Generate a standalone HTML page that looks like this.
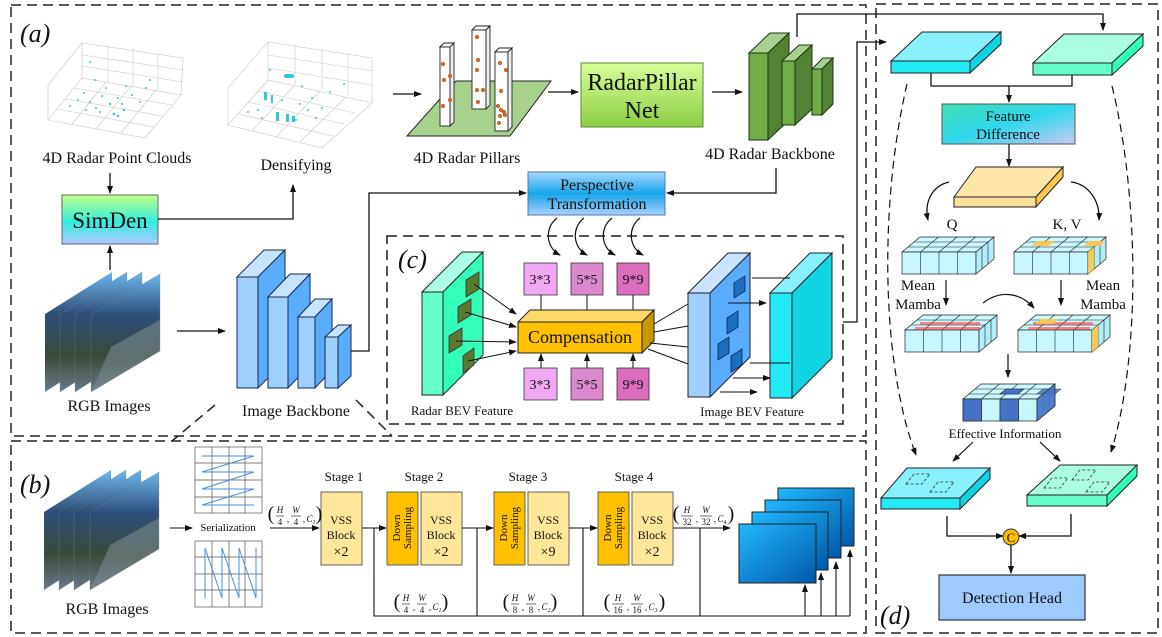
<!DOCTYPE html>
<html><head><meta charset="utf-8"><style>
html,body{margin:0;padding:0;background:#fff}
svg{display:block;font-family:"Liberation Serif","DejaVu Serif",serif}
svg text{font-family:"Liberation Serif","DejaVu Serif",serif;fill:#111}
</style></head><body>
<svg width="1162" height="637" viewBox="0 0 1162 637" xmlns="http://www.w3.org/2000/svg" font-family="Liberation Serif, DejaVu Serif, serif">
<defs>
<marker id="ah" markerWidth="8" markerHeight="8" refX="7" refY="4" orient="auto" markerUnits="userSpaceOnUse"><path d="M0,1 L8,4 L0,7 z" fill="#111"/></marker>
<linearGradient id="gSim" x1="0" y1="0" x2="0" y2="1"><stop offset="0" stop-color="#c2ff88"/><stop offset="0.55" stop-color="#30eedd"/><stop offset="1" stop-color="#b0c8ff"/></linearGradient>
<linearGradient id="gRP" x1="0" y1="0" x2="0" y2="1"><stop offset="0" stop-color="#d8ff99"/><stop offset="1" stop-color="#8ccc44"/></linearGradient>
<linearGradient id="gPT" x1="0" y1="0" x2="0" y2="1"><stop offset="0" stop-color="#a8d8ff"/><stop offset="0.5" stop-color="#18a4ea"/><stop offset="1" stop-color="#a8d0ff"/></linearGradient>
<linearGradient id="gFD" x1="0" y1="0" x2="1" y2="1"><stop offset="0" stop-color="#3ee0b0"/><stop offset="0.5" stop-color="#30d8f0"/><stop offset="1" stop-color="#c8c8ee"/></linearGradient>
<linearGradient id="gImg" x1="0" y1="0" x2="0" y2="1"><stop offset="0" stop-color="#6ab8f0"/><stop offset="0.35" stop-color="#2e4e78"/><stop offset="0.7" stop-color="#3a4a3a"/><stop offset="1" stop-color="#6a7a8a"/></linearGradient>
<linearGradient id="gBlue" x1="0" y1="0" x2="1" y2="1"><stop offset="0" stop-color="#22b8ff"/><stop offset="1" stop-color="#0058a8"/></linearGradient>
<g id="rgb">
 <polygon points="44,512 111,470 111,547 44,590" fill="url(#gImg)"/>
 <polygon points="59,512 126,470 126,547 59,590" fill="url(#gImg)" stroke="#888" stroke-width="0.3"/>
 <polygon points="74,512 141,470 141,547 74,590" fill="url(#gImg)" stroke="#888" stroke-width="0.3"/>
 <polygon points="90,512 159,472 159,549 90,590" fill="url(#gImg)" stroke="#888" stroke-width="0.3"/>
 <polygon points="110,545 159,518 159,549 90,590" fill="#7a8a90" opacity="0.6"/>
</g>
<g id="gridc">
 <polygon points="0,15 74,15 92,0 18,0" fill="#ccf8ff" stroke="#222" stroke-width="0.7"/>
 <line x1="6" y1="10" x2="80" y2="10" stroke="#222" stroke-width="0.6"/>
 <line x1="12" y1="5" x2="86" y2="5" stroke="#222" stroke-width="0.6"/>
 <line x1="18.5" y1="15" x2="36.5" y2="0" stroke="#222" stroke-width="0.6"/>
 <line x1="37" y1="15" x2="55" y2="0" stroke="#222" stroke-width="0.6"/>
 <line x1="55.5" y1="15" x2="73.5" y2="0" stroke="#222" stroke-width="0.6"/>
 <rect x="0" y="15" width="74" height="22" fill="#c8f6ff" stroke="#222" stroke-width="0.7"/>
 <line x1="18.5" y1="15" x2="18.5" y2="37" stroke="#222" stroke-width="0.6"/>
 <line x1="37" y1="15" x2="37" y2="37" stroke="#222" stroke-width="0.6"/>
 <line x1="55.5" y1="15" x2="55.5" y2="37" stroke="#222" stroke-width="0.6"/>
 <polygon points="74,15 92,0 92,22 74,37" fill="#b0eef8" stroke="#222" stroke-width="0.7"/>
 <line x1="80" y1="10" x2="80" y2="32" stroke="#222" stroke-width="0.6"/>
 <line x1="86" y1="5" x2="86" y2="27" stroke="#222" stroke-width="0.6"/>
</g>
</defs>

<!-- Frames -->
<g fill="none" stroke="#222" stroke-width="1.5" stroke-dasharray="10,6">
 <rect x="11" y="5" width="855" height="431"/>
 <rect x="11" y="441" width="855" height="192"/>
 <rect x="876" y="4" width="282" height="629"/>
 <rect x="387" y="236" width="456" height="188"/>
 <line x1="215" y1="405" x2="172" y2="441"/>
 <line x1="356" y1="400" x2="392" y2="436"/>
</g>
<text x="20" y="42" font-size="26" font-style="italic">(a)</text>
<text x="20" y="493" font-size="26" font-style="italic">(b)</text>
<text x="398" y="268" font-size="26" font-style="italic">(c)</text>
<text x="880" y="624" font-size="26" font-style="italic">(d)</text>

<!-- Point cloud plots -->
<g stroke="#c8c8c8" stroke-width="0.6" fill="none">
 <polygon points="48,120 145,138 181,95 82,78"/>
 <polyline points="82,78 82,43 183,58 181,95"/>
 <polyline points="48,120 48,85 82,43"/>
 <line x1="108" y1="45" x2="108" y2="83"/><line x1="133" y1="48" x2="133" y2="87"/><line x1="158" y1="53" x2="158" y2="91"/>
 <line x1="82" y1="55" x2="183" y2="70"/><line x1="82" y1="66" x2="183" y2="82"/>
 <line x1="72" y1="124" x2="106" y2="82"/><line x1="96" y1="129" x2="131" y2="86"/><line x1="121" y1="133" x2="156" y2="90"/>
 <line x1="57" y1="109" x2="154" y2="127"/><line x1="66" y1="99" x2="163" y2="116"/><line x1="74" y1="88" x2="172" y2="105"/>
 <polygon points="228,125 322,148 372,103 268,80"/>
 <polyline points="268,80 268,42 372,58 372,103"/>
 <polyline points="228,125 228,88 268,42"/>
 <line x1="295" y1="45" x2="295" y2="85"/><line x1="322" y1="49" x2="322" y2="90"/><line x1="348" y1="53" x2="348" y2="96"/>
 <line x1="268" y1="55" x2="372" y2="71"/><line x1="268" y1="68" x2="372" y2="85"/>
 <line x1="252" y1="131" x2="294" y2="86"/><line x1="276" y1="137" x2="320" y2="91"/><line x1="300" y1="142" x2="346" y2="97"/>
 <line x1="238" y1="114" x2="333" y2="136"/><line x1="248" y1="102" x2="344" y2="124"/><line x1="258" y1="91" x2="355" y2="113"/>
</g>
<g fill="#30c8d8">
 <circle cx="90" cy="102" r="1"/><circle cx="96" cy="108" r="1"/><circle cx="102" cy="96" r="1"/><circle cx="110" cy="104" r="1.2"/><circle cx="118" cy="98" r="1"/><circle cx="124" cy="110" r="1.2"/><circle cx="100" cy="112" r="1"/><circle cx="86" cy="110" r="1"/><circle cx="132" cy="95" r="1"/><circle cx="140" cy="102" r="1"/><circle cx="78" cy="100" r="1"/><circle cx="146" cy="88" r="1"/><circle cx="114" cy="114" r="1.3"/><circle cx="118" cy="116" r="1.3"/><circle cx="106" cy="88" r="1"/><circle cx="95" cy="80" r="1"/><circle cx="90" cy="62" r="1"/><circle cx="70" cy="106" r="1"/><circle cx="126" cy="86" r="1"/><circle cx="150" cy="80" r="1"/><circle cx="84" cy="93" r="1"/><circle cx="122" cy="104" r="1"/>
 <rect x="284" y="74" width="10" height="4" rx="2"/><rect x="264" y="92" width="3" height="8"/><rect x="271" y="95" width="2" height="8"/><rect x="276" y="112" width="3" height="9"/><rect x="286" y="114" width="3" height="8"/><rect x="292" y="116" width="3" height="6"/>
 <circle cx="258" cy="110" r="1"/><circle cx="262" cy="118" r="1"/><circle cx="300" cy="104" r="1"/><circle cx="308" cy="110" r="1"/><circle cx="312" cy="98" r="1"/><circle cx="282" cy="100" r="1"/><circle cx="248" cy="112" r="1"/><circle cx="330" cy="92" r="1"/><circle cx="344" cy="84" r="1"/><circle cx="302" cy="86" r="1"/><circle cx="270" cy="70" r="1"/><circle cx="316" cy="118" r="1"/><circle cx="296" cy="120" r="1"/><circle cx="322" cy="108" r="1"/>
</g>
<text x="117" y="163" font-size="16" text-anchor="middle">4D Radar Point Clouds</text>
<text x="296" y="170" font-size="16" text-anchor="middle">Densifying</text>

<!-- SimDen -->
<line x1="110" y1="173" x2="110" y2="193" stroke="#111" stroke-width="1.3" marker-end="url(#ah)"/>
<rect x="62" y="195" width="96" height="49" fill="url(#gSim)" stroke="#666" stroke-width="1"/>
<text x="110" y="228" font-size="23" text-anchor="middle">SimDen</text>
<polyline points="158,219 293,219 293,185" fill="none" stroke="#111" stroke-width="1.3" marker-end="url(#ah)"/>
<line x1="110" y1="270" x2="110" y2="246" stroke="#111" stroke-width="1.3" marker-end="url(#ah)"/>
<use href="#rgb" transform="translate(1,-198)"/>
<text x="109" y="411" font-size="16" text-anchor="middle">RGB Images</text>
<line x1="177" y1="331" x2="225" y2="331" stroke="#111" stroke-width="1.3" marker-end="url(#ah)"/>

<!-- Image backbone -->
<g stroke="#1a2a4a" stroke-width="1">
 <polygon points="237,277 264,250 285,250 258,277" fill="#c6e3ff"/><polygon points="258,277 285,250 285,361 258,388" fill="#5aacff"/><rect x="237" y="277" width="21" height="111" fill="#9dcfff"/>
 <polygon points="268,297 290,274 310,274 288,297" fill="#c6e3ff"/><polygon points="288,297 310,274 310,365 288,388" fill="#5aacff"/><rect x="268" y="297" width="20" height="91" fill="#9dcfff"/>
 <polygon points="298,317 315,299 332,299 315,317" fill="#c6e3ff"/><polygon points="315,317 332,299 332,370 315,388" fill="#5aacff"/><rect x="298" y="317" width="17" height="71" fill="#9dcfff"/>
 <polygon points="325,337 338,325 351,325 338,337" fill="#c6e3ff"/><polygon points="338,337 351,325 351,376 338,388" fill="#5aacff"/><rect x="325" y="337" width="13" height="51" fill="#9dcfff"/>
</g>
<text x="296" y="416" font-size="16" text-anchor="middle">Image Backbone</text>
<polyline points="351,351 369,351 369,193 526,193" fill="none" stroke="#111" stroke-width="1.3" marker-end="url(#ah)"/>

<!-- Pillars -->
<line x1="393" y1="94" x2="421" y2="94" stroke="#111" stroke-width="1.3" marker-end="url(#ah)"/>
<polygon points="407,136 456,81 551,81 510,136" fill="#a9d18e" stroke="#222" stroke-width="1"/>
<g stroke="#222" stroke-width="0.9" fill="#fff">
 <polygon points="440,47 444,43 454,43 450,47"/><rect x="440" y="47" width="10" height="79"/><polygon points="450,47 454,43 454,122 450,126" fill="#eee"/>
 <polygon points="472,30 476,26 490,26 486,30"/><rect x="472" y="30" width="14" height="79"/><polygon points="486,30 490,26 490,105 486,109" fill="#eee"/>
 <polygon points="495,52 499,48 512,48 508,52"/><rect x="495" y="52" width="13" height="79"/><polygon points="508,52 512,48 512,127 508,131" fill="#eee"/>
</g>
<g fill="#e07020" stroke="#803000" stroke-width="0.4">
 <circle cx="443" cy="64" r="1.8"/><circle cx="444" cy="80" r="1.8"/><circle cx="450" cy="76" r="1.8"/><circle cx="450" cy="100" r="1.8"/><circle cx="443" cy="106" r="1.8"/>
 <circle cx="477" cy="37" r="1.8"/><circle cx="478" cy="60" r="1.8"/><circle cx="477" cy="70" r="1.8"/><circle cx="477" cy="90" r="1.8"/><circle cx="483" cy="90" r="1.8"/><circle cx="478" cy="102" r="1.8"/>
 <circle cx="500" cy="63" r="1.8"/><circle cx="506" cy="70" r="1.8"/><circle cx="501" cy="91" r="1.8"/><circle cx="498" cy="106" r="1.8"/><circle cx="501" cy="110" r="1.8"/><circle cx="504" cy="112" r="1.8"/><circle cx="500" cy="116" r="1.8"/><circle cx="505" cy="115" r="1.8"/><circle cx="499" cy="123" r="1.8"/>
</g>
<text x="467" y="163" font-size="16" text-anchor="middle">4D Radar Pillars</text>
<line x1="548" y1="92" x2="578" y2="92" stroke="#111" stroke-width="1.3" marker-end="url(#ah)"/>
<rect x="581" y="63" width="122" height="64" fill="url(#gRP)" stroke="#5a8a30" stroke-width="1"/>
<text x="642" y="90" font-size="24" text-anchor="middle">RadarPillar</text>
<text x="642" y="118" font-size="24" text-anchor="middle">Net</text>
<line x1="712" y1="92" x2="742" y2="92" stroke="#111" stroke-width="1.3" marker-end="url(#ah)"/>

<!-- Radar backbone -->
<g stroke="#1e3410" stroke-width="1">
 <polygon points="749,53 770,33 789,33 768,53" fill="#a9d08e"/><polygon points="768,53 789,33 789,120 768,140" fill="#548235"/><rect x="749" y="53" width="19" height="87" fill="#70ad47"/>
 <polygon points="782,61 799,45 812,45 795,61" fill="#a9d08e"/><polygon points="795,61 812,45 812,109 795,125" fill="#548235"/><rect x="782" y="61" width="13" height="64" fill="#70ad47"/>
 <polygon points="812,69 823,58 833,58 822,69" fill="#a9d08e"/><polygon points="822,69 833,58 833,104 822,115" fill="#548235"/><rect x="812" y="69" width="10" height="46" fill="#70ad47"/>
</g>
<text x="770" y="159" font-size="16" text-anchor="middle">4D Radar Backbone</text>
<polyline points="797,37 797,14 1103,14 1103,30" fill="none" stroke="#111" stroke-width="1.3" marker-end="url(#ah)"/>
<polyline points="776,168 776,193 667,193" fill="none" stroke="#111" stroke-width="1.3" marker-end="url(#ah)"/>
<rect x="528" y="172" width="137" height="43" fill="url(#gPT)" stroke="#4a7aaa" stroke-width="1"/>
<text x="597" y="190" font-size="16" text-anchor="middle">Perspective</text>
<text x="597" y="209" font-size="16" text-anchor="middle">Transformation</text>
<g fill="none" stroke="#111" stroke-width="1.2">
 <path d="M557,218 C544,228 546,248 560,255" marker-end="url(#ah)"/>
 <path d="M584,218 C571,228 573,248 587,255" marker-end="url(#ah)"/>
 <path d="M612,218 C599,228 601,248 615,255" marker-end="url(#ah)"/>
 <path d="M640,218 C627,228 629,248 643,255" marker-end="url(#ah)"/>
</g>

<!-- (c) contents -->
<g stroke="#222" stroke-width="1">
 <polygon points="422,292 462,252 483,252 443,292" fill="#aaffe6"/><polygon points="443,292 483,252 483,355 443,395" fill="#33ffbb"/><rect x="422" y="292" width="21" height="103" fill="#66ffcc"/>
 <g fill="#5a7a30" stroke="#333" stroke-width="0.8">
  <polygon points="466,280 479,272 479,289 466,297"/><polygon points="458,307 471,299 471,315 458,323"/><polygon points="449,336 462,328 462,345 449,353"/><polygon points="463,356 474,348 474,365 463,373"/>
 </g>
</g>
<g stroke="#111" stroke-width="1" fill="none">
 <line x1="474" y1="284" x2="516" y2="314" marker-end="url(#ah)"/>
 <line x1="465" y1="312" x2="516" y2="327" marker-end="url(#ah)"/>
 <line x1="456" y1="341" x2="516" y2="342" marker-end="url(#ah)"/>
 <line x1="468" y1="361" x2="516" y2="351" marker-end="url(#ah)"/>
</g>
<g stroke="#333" stroke-width="0.8">
 <rect x="524" y="263" width="33" height="32" fill="#f0a8f4"/><rect x="571" y="263" width="32" height="32" fill="#dc88cc"/><rect x="617" y="263" width="32" height="32" fill="#dc6cbc"/>
 <rect x="524" y="368" width="33" height="32" fill="#f0a8f4"/><rect x="571" y="368" width="32" height="32" fill="#dc88cc"/><rect x="617" y="368" width="32" height="32" fill="#dc6cbc"/>
</g>
<g font-size="14" text-anchor="middle">
 <text x="540" y="284">3*3</text><text x="587" y="284">5*5</text><text x="633" y="284">9*9</text>
 <text x="540" y="389">3*3</text><text x="587" y="389">5*5</text><text x="633" y="389">9*9</text>
</g>
<g stroke="#111" stroke-width="1">
 <line x1="541" y1="295" x2="541" y2="321" marker-end="url(#ah)"/><line x1="587" y1="295" x2="587" y2="321" marker-end="url(#ah)"/><line x1="633" y1="295" x2="633" y2="321" marker-end="url(#ah)"/>
 <line x1="541" y1="368" x2="541" y2="354" marker-end="url(#ah)"/><line x1="587" y1="368" x2="587" y2="354" marker-end="url(#ah)"/><line x1="633" y1="368" x2="633" y2="354" marker-end="url(#ah)"/>
</g>
<g stroke="#222" stroke-width="1">
 <polygon points="518,322 530,310 654,310 642,322" fill="#ffd966"/>
 <polygon points="642,322 654,310 654,341 642,353" fill="#c99700"/>
 <rect x="518" y="322" width="124" height="31" fill="#ffc000"/>
</g>
<text x="580" y="343" font-size="18" text-anchor="middle">Compensation</text>
<g stroke="#111" stroke-width="1">
 <line x1="654" y1="324" x2="688" y2="304"/><line x1="654" y1="332" x2="688" y2="326"/><line x1="650" y1="343" x2="688" y2="347"/><line x1="648" y1="349" x2="688" y2="364"/>
</g>
<g stroke="#222" stroke-width="1">
 <polygon points="688,293 728,253 750,253 710,293" fill="#c6e3ff"/><polygon points="710,293 750,253 750,357 710,397" fill="#5aacff"/><rect x="688" y="293" width="22" height="104" fill="#9dcfff"/>
 <g fill="#1a70c0" stroke="#113" stroke-width="0.7">
  <polygon points="734,283 745,276 745,291 734,298"/><polygon points="727,318 738,311 738,327 727,334"/><polygon points="718,344 729,337 729,353 718,360"/><polygon points="731,356 742,349 742,365 731,372"/>
 </g>
 <polygon points="770,293 810,253 832,253 792,293" fill="#88f0ff"/><polygon points="792,293 832,253 832,358 792,398" fill="#10d4e4"/><rect x="770" y="293" width="22" height="105" fill="#22eaf6"/>
</g>
<g stroke="#111" stroke-width="1">
 <line x1="752" y1="278" x2="790" y2="278"/>
 <line x1="728" y1="303" x2="766" y2="303" marker-end="url(#ah)"/>
 <line x1="750" y1="363" x2="790" y2="363"/>
 <line x1="733" y1="378" x2="770" y2="378" marker-end="url(#ah)"/>
 <line x1="720" y1="392" x2="757" y2="392" marker-end="url(#ah)"/>
</g>
<text x="462" y="415" font-size="13" text-anchor="middle" fill="#333">Radar BEV Feature</text>
<text x="752" y="416" font-size="13" text-anchor="middle" fill="#333">Image BEV Feature</text>
<polyline points="843,322 857,322 857,42 886,42" fill="none" stroke="#111" stroke-width="1.3" marker-end="url(#ah)"/>

<!-- (d) -->
<g stroke="#222" stroke-width="1">
 <polygon points="891,61 922,32 1001,32 970,61" fill="#88f0ff"/><polygon points="970,61 1001,32 1001,44 970,73" fill="#10d4e4"/><rect x="891" y="61" width="79" height="12" fill="#22eaf6"/>
 <polygon points="1033,63 1064,34 1143,34 1112,63" fill="#aaffe0"/><polygon points="1112,63 1143,34 1143,46 1112,75" fill="#33ffbb"/><rect x="1033" y="63" width="79" height="12" fill="#66ffcc"/>
</g>
<polyline points="931,73 931,86 1072,86 1072,75" fill="none" stroke="#111" stroke-width="1.3"/>
<line x1="1009" y1="86" x2="1009" y2="102" stroke="#111" stroke-width="1.3" marker-end="url(#ah)"/>
<rect x="942" y="104" width="133" height="40" fill="url(#gFD)" stroke="#555" stroke-width="1"/>
<text x="1008" y="121" font-size="15" text-anchor="middle">Feature</text>
<text x="1008" y="139" font-size="15" text-anchor="middle">Difference</text>
<line x1="1009" y1="144" x2="1009" y2="166" stroke="#111" stroke-width="1.3" marker-end="url(#ah)"/>
<g stroke="#222" stroke-width="1">
 <polygon points="954,197 976,167 1063,167 1036,197" fill="#ffe6a8"/><polygon points="1036,197 1063,167 1063,177 1036,207" fill="#ffc850"/><rect x="954" y="197" width="82" height="10" fill="#ffe099"/>
</g>
<g fill="none" stroke="#111" stroke-width="1.3">
 <path d="M949,182 C932,186 924,202 928,220" marker-end="url(#ah)"/>
 <path d="M1071,182 C1088,184 1100,200 1099,220" marker-end="url(#ah)"/>
</g>
<text x="952" y="229" font-size="15" text-anchor="middle">Q</text>
<text x="1067" y="229" font-size="15" text-anchor="middle">K, V</text>
<use href="#gridc" transform="translate(902,237)"/>
<use href="#gridc" transform="translate(1014,237)"/>
<g fill="#ffc84a" opacity="0.9"><polygon points="1031,246 1049,246 1055,241 1037,241"/><polygon points="1084,246 1100,246 1105,241 1089,241"/><polygon points="1088,252 1094,247 1094,269 1088,274"/></g>
<text x="918" y="290" font-size="15" text-anchor="middle">Mean</text>
<text x="918" y="309" font-size="15" text-anchor="middle">Mamba</text>
<text x="1103" y="290" font-size="15" text-anchor="middle">Mean</text>
<text x="1103" y="309" font-size="15" text-anchor="middle">Mamba</text>
<line x1="946" y1="280" x2="946" y2="305" stroke="#111" stroke-width="1.2" marker-end="url(#ah)"/>
<line x1="1061" y1="280" x2="1061" y2="305" stroke="#111" stroke-width="1.2" marker-end="url(#ah)"/>
<path d="M983,303 C1000,290 1020,292 1034,308" fill="none" stroke="#111" stroke-width="1.2" marker-end="url(#ah)"/>
<use href="#gridc" transform="translate(905,315)"/>
<use href="#gridc" transform="translate(1018,315)"/>
<g fill="#ff3030" opacity="0.55">
 <rect x="920" y="322" width="60" height="3"/><rect x="915" y="327" width="65" height="3"/><rect x="1033" y="322" width="60" height="3"/><rect x="1028" y="327" width="62" height="3"/>
</g>
<g fill="#ffc84a" opacity="0.9"><polygon points="1035,324 1053,324 1059,319 1041,319"/><polygon points="1092,330 1098,325 1098,347 1092,352"/></g>
<line x1="1008" y1="354" x2="1008" y2="377" stroke="#111" stroke-width="1.2" marker-end="url(#ah)"/>
<use href="#gridc" transform="translate(963,384)"/>
<g fill="#4472c4" stroke="#222" stroke-width="0.6">
 <rect x="963" y="399" width="18.5" height="22"/><rect x="1000" y="399" width="18.5" height="22"/>
 <polygon points="1000,394 1018,394 1024,389 1006,389"/><polygon points="1043,389 1061,389 1055,394 1037,394" opacity="0.8"/>
 <polygon points="1037,399 1055,384 1055,406 1037,421" opacity="0.9"/>
</g>
<text x="1005" y="438" font-size="13" text-anchor="middle" fill="#333">Effective Information</text>
<line x1="973" y1="442" x2="953" y2="461" stroke="#111" stroke-width="1.2" marker-end="url(#ah)"/>
<line x1="1040" y1="442" x2="1060" y2="461" stroke="#111" stroke-width="1.2" marker-end="url(#ah)"/>
<g fill="none" stroke="#111" stroke-width="1.2" stroke-dasharray="8,5">
 <path d="M907,84 C880,200 880,360 916,455" marker-end="url(#ah)"/>
 <path d="M1112,86 C1140,200 1140,360 1111,452" marker-end="url(#ah)"/>
</g>
<g stroke="#222" stroke-width="1">
 <polygon points="881,498 907,468 990,468 960,498" fill="#88f0ff"/><polygon points="960,498 990,468 990,479 960,509" fill="#10d4e4"/><rect x="881" y="498" width="79" height="11" fill="#22eaf6"/>
 <polygon points="1027,495 1060,465 1137,465 1107,495" fill="#aaffe0"/><polygon points="1107,495 1137,465 1137,476 1107,506" fill="#33ffbb"/><rect x="1027" y="495" width="80" height="11" fill="#66ffcc"/>
</g>
<g fill="none" stroke="#333" stroke-width="0.8" stroke-dasharray="3,2">
 <polygon points="906,484 914,474 930,474 922,484"/><polygon points="930,492 938,482 954,482 946,492"/>
 <polygon points="1044,488 1052,478 1068,478 1060,488"/><polygon points="1072,480 1080,470 1096,470 1088,480"/><polygon points="1086,492 1094,482 1110,482 1102,492"/>
</g>
<polyline points="947,516 947,536 1003,536" fill="none" stroke="#111" stroke-width="1.3" marker-end="url(#ah)"/>
<polyline points="1071,514 1071,536 1019,536" fill="none" stroke="#111" stroke-width="1.3" marker-end="url(#ah)"/>
<circle cx="1011" cy="537" r="8" fill="#ffc000" stroke="#333" stroke-width="1"/>
<text x="1011" y="542" font-size="13" text-anchor="middle">C</text>
<line x1="1011" y1="545" x2="1011" y2="573" stroke="#111" stroke-width="1.3" marker-end="url(#ah)"/>
<rect x="939" y="575" width="146" height="45" fill="#9dcbff" stroke="#333" stroke-width="1.2"/>
<text x="1012" y="603" font-size="16" text-anchor="middle">Detection Head</text>

<!-- (b) -->
<use href="#rgb"/>
<text x="107" y="614" font-size="16" text-anchor="middle">RGB Images</text>
<line x1="170" y1="528" x2="192" y2="528" stroke="#111" stroke-width="1.1" marker-end="url(#ah)"/>
<g stroke="#555" stroke-width="0.7" fill="#fff">
 <rect x="195" y="447" width="67" height="66"/><line x1="212" y1="447" x2="212" y2="513"/><line x1="229" y1="447" x2="229" y2="513"/><line x1="245" y1="447" x2="245" y2="513"/>
 <line x1="195" y1="463" x2="262" y2="463"/><line x1="195" y1="480" x2="262" y2="480"/><line x1="195" y1="497" x2="262" y2="497"/>
 <rect x="195" y="541" width="67" height="66"/><line x1="212" y1="541" x2="212" y2="607"/><line x1="229" y1="541" x2="229" y2="607"/><line x1="245" y1="541" x2="245" y2="607"/>
 <line x1="195" y1="557" x2="262" y2="557"/><line x1="195" y1="574" x2="262" y2="574"/><line x1="195" y1="590" x2="262" y2="590"/>
</g>
<g stroke="#4a90d8" stroke-width="1" fill="none">
 <polyline points="202,456 254,456 202,472 254,472 202,489 254,489 202,505 254,505"/>
 <polyline points="205,598 205,548 222,598 222,548 239,598 239,548 256,598 256,548"/>
</g>
<text x="228" y="531" font-size="11" text-anchor="middle">Serialization</text>
<line x1="270" y1="528" x2="319" y2="528" stroke="#111" stroke-width="1.1" marker-end="url(#ah)"/>

<g font-size="13" text-anchor="middle">
 <text x="344" y="481">Stage 1</text><text x="424" y="481">Stage 2</text><text x="528" y="481">Stage 3</text><text x="634" y="481">Stage 4</text>
</g>
<g stroke="#555" stroke-width="0.9">
 <rect x="321" y="492" width="41" height="73" fill="#ffe699"/>
 <rect x="387" y="492" width="31" height="73" fill="#ffc000"/><rect x="421" y="492" width="41" height="73" fill="#ffe699"/>
 <rect x="494" y="492" width="31" height="73" fill="#ffc000"/><rect x="528" y="492" width="41" height="73" fill="#ffe699"/>
 <rect x="598" y="492" width="31" height="73" fill="#ffc000"/><rect x="632" y="492" width="41" height="73" fill="#ffe699"/>
</g>
<g font-size="12" text-anchor="middle">
 <text x="341" y="524">VSS</text><text x="341" y="539">Block</text><text x="341" y="556" font-size="14">×2</text>
 <text x="441" y="524">VSS</text><text x="441" y="539">Block</text><text x="441" y="556" font-size="14">×2</text>
 <text x="548" y="524">VSS</text><text x="548" y="539">Block</text><text x="548" y="556" font-size="14">×9</text>
 <text x="652" y="524">VSS</text><text x="652" y="539">Block</text><text x="652" y="556" font-size="14">×2</text>
</g>
<g font-size="11" text-anchor="middle">
 <text transform="translate(400,528) rotate(-90)">Down</text><text transform="translate(411,528) rotate(-90)">Sampling</text>
 <text transform="translate(507,528) rotate(-90)">Down</text><text transform="translate(518,528) rotate(-90)">Sampling</text>
 <text transform="translate(611,528) rotate(-90)">Down</text><text transform="translate(622,528) rotate(-90)">Sampling</text>
</g>
<g stroke="#111" stroke-width="1.1" fill="none">
 <line x1="362" y1="528" x2="386" y2="528" marker-end="url(#ah)"/>
 <line x1="462" y1="528" x2="493" y2="528" marker-end="url(#ah)"/>
 <line x1="569" y1="528" x2="597" y2="528" marker-end="url(#ah)"/>
 <line x1="673" y1="528" x2="730" y2="528" marker-end="url(#ah)"/>
 <polyline points="374,528 374,616 850,616"/>
 <line x1="477" y1="528" x2="477" y2="616"/><line x1="583" y1="528" x2="583" y2="616"/><line x1="700" y1="528" x2="700" y2="616"/>
 <line x1="805" y1="616" x2="805" y2="585" marker-end="url(#ah)"/>
 <line x1="821" y1="616" x2="821" y2="573" marker-end="url(#ah)"/>
 <line x1="836" y1="616" x2="836" y2="562" marker-end="url(#ah)"/>
 <line x1="850" y1="616" x2="850" y2="550" marker-end="url(#ah)"/>
</g>
<g stroke="#222" stroke-width="1" fill="url(#gBlue)">
 <rect x="778" y="488" width="76" height="58"/><rect x="765" y="500" width="76" height="58"/><rect x="752" y="512" width="76" height="58"/><rect x="739" y="524" width="77" height="59"/>
</g>

<!-- fraction labels -->
<g font-size="9" font-style="italic" text-anchor="middle">
 <g transform="translate(294,516)">
  <text x="-23" y="4" font-size="20" font-style="normal">(</text><text x="-14" y="-3">H</text><line x1="-18" y1="0" x2="-10" y2="0" stroke="#111" stroke-width="0.6"/><text x="-14" y="9" font-style="normal">4</text>
  <text x="-6" y="6" font-style="normal">,</text><text x="2" y="-3">W</text><line x1="-3" y1="0" x2="7" y2="0" stroke="#111" stroke-width="0.6"/><text x="2" y="9" font-style="normal">4</text>
  <text x="10" y="6" font-style="normal">,</text><text x="17" y="6">C<tspan font-size="6" dy="2">1</tspan></text><text x="25" y="4" font-size="20" font-style="normal">)</text>
 </g>
 <g transform="translate(420,604)">
  <text x="-23" y="4" font-size="20" font-style="normal">(</text><text x="-14" y="-3">H</text><line x1="-18" y1="0" x2="-10" y2="0" stroke="#111" stroke-width="0.6"/><text x="-14" y="9" font-style="normal">4</text>
  <text x="-6" y="6" font-style="normal">,</text><text x="2" y="-3">W</text><line x1="-3" y1="0" x2="7" y2="0" stroke="#111" stroke-width="0.6"/><text x="2" y="9" font-style="normal">4</text>
  <text x="10" y="6" font-style="normal">,</text><text x="17" y="6">C<tspan font-size="6" dy="2">1</tspan></text><text x="25" y="4" font-size="20" font-style="normal">)</text>
 </g>
 <g transform="translate(529,604)">
  <text x="-23" y="4" font-size="20" font-style="normal">(</text><text x="-14" y="-3">H</text><line x1="-18" y1="0" x2="-10" y2="0" stroke="#111" stroke-width="0.6"/><text x="-14" y="9" font-style="normal">8</text>
  <text x="-6" y="6" font-style="normal">,</text><text x="2" y="-3">W</text><line x1="-3" y1="0" x2="7" y2="0" stroke="#111" stroke-width="0.6"/><text x="2" y="9" font-style="normal">8</text>
  <text x="10" y="6" font-style="normal">,</text><text x="17" y="6">C<tspan font-size="6" dy="2">2</tspan></text><text x="25" y="4" font-size="20" font-style="normal">)</text>
 </g>
 <g transform="translate(634,604)">
  <text x="-27" y="4" font-size="20" font-style="normal">(</text><text x="-16" y="-3">H</text><line x1="-22" y1="0" x2="-10" y2="0" stroke="#111" stroke-width="0.6"/><text x="-16" y="9" font-style="normal">16</text>
  <text x="-6" y="6" font-style="normal">,</text><text x="3" y="-3">W</text><line x1="-3" y1="0" x2="9" y2="0" stroke="#111" stroke-width="0.6"/><text x="3" y="9" font-style="normal">16</text>
  <text x="12" y="6" font-style="normal">,</text><text x="19" y="6">C<tspan font-size="6" dy="2">3</tspan></text><text x="28" y="4" font-size="20" font-style="normal">)</text>
 </g>
 <g transform="translate(703,516)">
  <text x="-27" y="4" font-size="20" font-style="normal">(</text><text x="-16" y="-3">H</text><line x1="-22" y1="0" x2="-10" y2="0" stroke="#111" stroke-width="0.6"/><text x="-16" y="9" font-style="normal">32</text>
  <text x="-6" y="6" font-style="normal">,</text><text x="3" y="-3">W</text><line x1="-3" y1="0" x2="9" y2="0" stroke="#111" stroke-width="0.6"/><text x="3" y="9" font-style="normal">32</text>
  <text x="12" y="6" font-style="normal">,</text><text x="19" y="6">C<tspan font-size="6" dy="2">4</tspan></text><text x="28" y="4" font-size="20" font-style="normal">)</text>
 </g>
</g>
</svg>
</body></html>
